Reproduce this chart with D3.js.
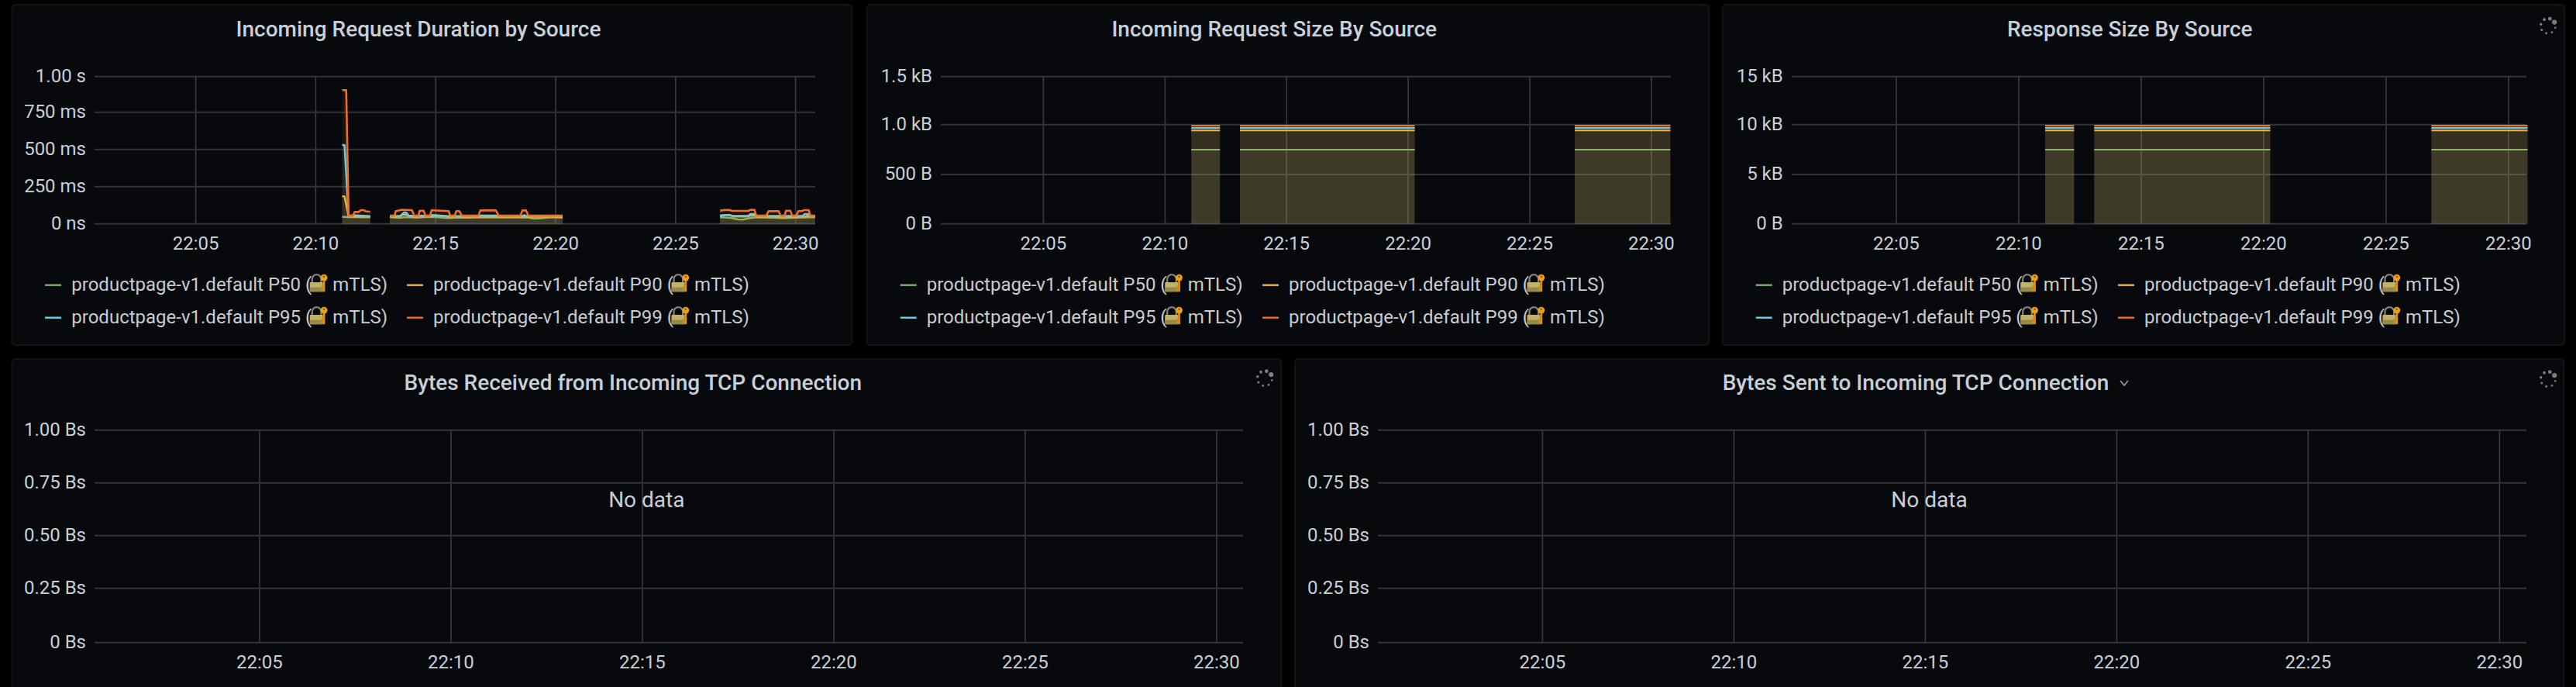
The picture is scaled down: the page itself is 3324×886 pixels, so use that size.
<!DOCTYPE html>
<html>
<head>
<meta charset="utf-8">
<script src="https://cdn.jsdelivr.net/npm/d3@7/dist/d3.min.js"></script>
<style>
html,body{margin:0;padding:0;background:#000;}
svg{display:block;}
text{font-family:Roboto,"Noto Sans",sans-serif;}
</style>
</head>
<body>
<svg id="c" width="3324" height="886"></svg>
<script>
// ---- DATA (time = minutes after 22:00) ----
const timeTicks = [5, 10, 15, 20, 25, 30];
const timeTickLabels = ["22:05", "22:10", "22:15", "22:20", "22:25", "22:30"];
const seriesNames = ["P50", "P90", "P95", "P99"];
const seriesColors = ["#7eb26d", "#eab839", "#6ed0e0", "#ef6e28"];
const source = "productpage-v1.default";

const durationP50 = [[11.10,48],[11.30,46],[11.9,44],[12.27,44],[12.28,null],
  [13.09,45],[13.5,40],[13.75,46],[14.2,42],[14.6,45],[15.0,46],[15.5,39],[15.9,42],[16.4,42],[16.9,44],[17.5,43],[18.2,44],[18.9,42],[19.1,35],[19.4,38],[19.8,44],[20.29,42],[20.3,null],
  [26.85,44],[27.3,40],[27.6,30],[27.8,28],[28.05,38],[28.4,44],[29.0,42],[29.5,38],[30.0,42],[30.81,44]];
const durationP90 = [[11.10,185],[11.20,185],[11.37,50],[12.27,48],[12.28,null],
  [13.09,48],[13.5,50],[13.62,62],[13.8,62],[13.95,50],[14.8,50],[14.95,56],[15.3,54],[15.5,48],[20.29,48],[20.3,null],
  [26.85,50],[27.05,60],[27.25,60],[27.4,50],[28.0,50],[28.12,56],[28.3,56],[28.4,48],[30.4,48],[30.5,54],[30.81,50]];
const durationP95 = [[11.10,530],[11.20,530],[11.37,54],[11.7,57],[12.27,52],[12.28,null],
  [13.09,52],[13.53,54],[13.67,76],[13.77,76],[13.88,54],[14.76,54],[14.85,60],[15.5,52],[16.8,52],[16.88,56],[17.5,56],[17.6,52],[18.6,52],[18.68,58],[18.78,52],[20.29,52],[20.3,null],
  [26.85,55],[27.05,60],[27.25,58],[27.4,53],[28.03,53],[28.12,66],[28.3,66],[28.37,53],[30.3,53],[30.38,66],[30.55,66],[30.62,53],[30.81,53]];
const durationP99 = [[11.10,905],[11.27,905],[11.37,55],[11.56,55],[11.62,80],[11.79,80],[11.88,92],[11.99,92],[12.09,84],[12.27,82],[12.28,null],
  [13.09,55],[13.28,55],[13.34,86],[13.58,95],[14.01,92],[14.10,55],[14.28,55],[14.33,88],[14.50,88],[14.57,55],[14.76,55],[14.83,92],[14.98,90],[15.54,86],[15.60,55],[15.79,55],[15.86,86],[15.98,86],[16.09,55],[16.78,55],[16.86,90],[17.51,90],[17.62,55],[18.53,55],[18.61,90],[18.77,90],[18.86,55],[20.29,55],[20.3,null],
  [26.85,88],[27.03,93],[27.25,93],[27.36,87],[28.03,87],[28.11,94],[28.29,94],[28.36,55],[28.78,55],[28.87,85],[29.30,85],[29.37,55],[29.54,55],[29.60,88],[29.78,88],[29.86,55],[30.03,55],[30.11,86],[30.27,86],[30.33,92],[30.55,92],[30.61,55],[30.81,55]];

const activeSegments = [[11.08, 12.26], [13.08, 20.27], [26.85, 30.78]];
const requestSizeLevels = [749, 943, 968, 990];   // bytes
const responseSizeLevels = [7490, 9430, 9680, 9900]; // bytes

const durationYTicks = [0, 250, 500, 750, 1000];
const durationYLabels = ["0 ns", "250 ms", "500 ms", "750 ms", "1.00 s"];
const requestYTicks = [0, 500, 1000, 1500];
const requestYLabels = ["0 B", "500 B", "1.0 kB", "1.5 kB"];
const responseYTicks = [0, 5000, 10000, 15000];
const responseYLabels = ["0 B", "5 kB", "10 kB", "15 kB"];
const tcpYTicks = [0, 0.25, 0.5, 0.75, 1];
const tcpYLabels = ["0 Bs", "0.25 Bs", "0.50 Bs", "0.75 Bs", "1.00 Bs"];

// ---- layout ----
const topRow = {panelTop: 6, panelBottom: 445, titleY: 37, tickY: 314};
const botRow = {panelTop: 463, panelBottom: 900, titleY: 493, tickY: 854};
const panels = [
 {title:"Incoming Request Duration by Source", px:[15.6,1099.4], row:topRow, plot:[122,1052], dom:[0.78,30.82], lineW:2.6,
  yTicks:durationYTicks, yLabels:durationYLabels, yRange:[288.7,240.7,192.7,144.7,98.7], legendX:[58,525], legendText:[92.3,559],
  series:[durationP50,durationP90,durationP95,durationP99]},
 {title:"Incoming Request Size By Source", px:[1118.5,2205], row:topRow, plot:[1214,2156], dom:[0.78,30.8], lineW:2.2,
  yTicks:requestYTicks, yLabels:requestYLabels, yRange:[288.7,225,160.7,98.7], legendX:[1161.7,1629], legendText:[1195.7,1663],
  levels:requestSizeLevels},
 {title:"Response Size By Source", px:[2222.5,3309], row:topRow, plot:[2311.7,3260], dom:[0.72,30.73], lineW:2.2,
  yTicks:responseYTicks, yLabels:responseYLabels, yRange:[288.7,225,160.7,98.7], legendX:[2265.7,2733], legendText:[2299.7,2767],
  levels:responseSizeLevels, spinner:[3288,33.5]},
 {title:"Bytes Received from Incoming TCP Connection", px:[15.6,1653], row:botRow, plot:[122,1604], dom:[0.69,30.69],
  yTicks:tcpYTicks, yLabels:tcpYLabels, yRange:[828.7,758.7,690.7,622.7,554.7], noData:true, spinner:[1632,488]},
 {title:"Bytes Sent to Incoming TCP Connection", px:[1671,3308], row:botRow, plot:[1778,3260], dom:[0.70,30.70],
  yTicks:tcpYTicks, yLabels:tcpYLabels, yRange:[828.7,758.7,690.7,622.7,554.7], noData:true, spinner:[3288,489], chevron:true}
];

const svg = d3.select("#c");
const textCol = "#c7d0d9";
const legendCol = "#c8ccd0";

function drawLock(g, x, y){
  const k = g.append("g").attr("transform", `translate(${x},${y})`);
  k.append("path").attr("d","M3,11 V6.5 A5.8,5.8 0 0 1 14.6,6.5 V11").attr("fill","none").attr("stroke","#7f8388").attr("stroke-width",2.2);
  k.append("rect").attr("x",0).attr("y",10.5).attr("width",17).attr("height",12.2).attr("rx",1).attr("fill","#bfb16a");
  k.append("rect").attr("x",0).attr("y",17).attr("width",17).attr("height",5.7).attr("fill","#978b45");
  k.append("circle").attr("cx",18.3).attr("cy",4.6).attr("r",4.4).attr("fill","#f0a012");
  k.append("circle").attr("cx",18.3).attr("cy",3.2).attr("r",1.2).attr("fill","#7c5a10");
  k.append("rect").attr("x",16.9).attr("y",8).attr("width",2.8).attr("height",14.7).attr("fill","#e0900c");
  k.append("rect").attr("x",14.6).attr("y",15).attr("width",2.4).attr("height",2).attr("fill","#e0900c");
  k.append("rect").attr("x",14.6).attr("y",19).attr("width",2.4).attr("height",2).attr("fill","#e0900c");
}

function drawSpinner(g, cx, cy){
  const sizes = [3.1, 2.4, 1.9, 1.7, 1.5, 1.5, 1.4, 1.4];
  const startAngle = -31 * Math.PI/180, r = 9.6;
  sizes.forEach((s,i)=>{
    const a = startAngle - i * Math.PI/4;
    g.append("circle").attr("cx",cx+r*Math.cos(a)).attr("cy",cy+r*Math.sin(a)).attr("r",s).attr("fill","#7b7c7e");
  });
}

panels.forEach(p=>{
  const g = svg.append("g");
  const r = p.row;
  g.append("rect").attr("x",p.px[0]).attr("y",r.panelTop).attr("width",p.px[1]-p.px[0]).attr("height",r.panelBottom-r.panelTop)
    .attr("rx",5).attr("fill","#08090c").attr("stroke","#131417").attr("stroke-width",2);

  const x = d3.scaleLinear().domain(p.dom).range(p.plot);
  const y = d3.scaleLinear().domain(p.yTicks).range(p.yRange);
  const yBottom = y(0), yTop = y(p.yTicks[p.yTicks.length-1]);

  // title
  const pc = (p.px[0]+p.px[1])/2 - 17.5;
  g.append("text").attr("x",pc).attr("y",r.titleY).attr("text-anchor","middle").attr("dominant-baseline","central")
    .attr("font-size",28).attr("font-weight",500).attr("fill",textCol).text(p.title);
  if(p.chevron){
    g.append("path").attr("d",`M${pc+264},${r.titleY-2} l5,6 l5,-6`).attr("fill","none").attr("stroke","#9aa3ab").attr("stroke-width",1.5);
  }

  // grid
  g.append("g").selectAll("line").data(timeTicks).join("line")
    .attr("x1",d=>x(d)).attr("x2",d=>x(d)).attr("y1",yTop).attr("y2",yBottom)
    .attr("stroke","#3a3b3e").attr("stroke-width",1.6);
  g.append("g").selectAll("line").data(p.yTicks).join("line")
    .attr("x1",p.plot[0]).attr("x2",p.plot[1]).attr("y1",d=>y(d)).attr("y2",d=>y(d))
    .attr("stroke","#333437").attr("stroke-width",2);

  // axis labels
  g.append("g").selectAll("text").data(timeTicks).join("text")
    .attr("x",d=>x(d)).attr("y",r.tickY).attr("text-anchor","middle").attr("dominant-baseline","central")
    .attr("font-size",24).attr("fill",textCol).text((d,i)=>timeTickLabels[i]);
  g.append("g").selectAll("text").data(p.yTicks).join("text")
    .attr("x",p.plot[0]-11).attr("y",d=>y(d)-1).attr("text-anchor","end").attr("dominant-baseline","central")
    .attr("font-size",24).attr("fill",textCol).text((d,i)=>p.yLabels[i]);

  // series
  const area = d3.area().defined(d=>d[1]!==null).x(d=>x(d[0])).y0(yBottom).y1(d=>y(d[1]));
  const line = d3.line().defined(d=>d[1]!==null).x(d=>x(d[0])).y(d=>y(d[1]));
  const seriesData = p.series ? p.series : p.levels ? p.levels.map(v=>{
      const pts=[]; activeSegments.forEach((s,i)=>{ pts.push([s[0],v],[s[1],v]); if(i<activeSegments.length-1) pts.push([s[1]+0.01,null]); });
      return pts;
    }) : [];
  seriesData.forEach((d,i)=>{
    g.append("path").datum(d).attr("d",area).attr("fill",seriesColors[i]).attr("fill-opacity",0.09);
    g.append("path").datum(d).attr("d",line).attr("fill","none").attr("stroke",seriesColors[i]).attr("stroke-width",p.lineW).attr("stroke-linejoin","round");
  });

  // no data
  if(p.noData){
    g.append("text").attr("x",(p.px[0]+p.px[1])/2).attr("y",644).attr("text-anchor","middle").attr("dominant-baseline","central")
      .attr("font-size",28).attr("fill",textCol).text("No data");
  }

  // legend
  if(p.legendX){
    seriesNames.forEach((n,i)=>{
      const col = i%2, rowY = i<2 ? 367 : 409;
      g.append("line").attr("x1",p.legendX[col]).attr("x2",p.legendX[col]+21).attr("y1",rowY+0.7).attr("y2",rowY+0.7)
        .attr("stroke",seriesColors[i]).attr("stroke-width",2.4);
      const tx = p.legendText[col];
      g.append("text").attr("x",tx).attr("y",rowY).attr("dominant-baseline","central")
        .attr("font-size",24).attr("fill",legendCol).text(`${source} ${n} (`);
      drawLock(g, tx+307.5, rowY-13.5);
      g.append("text").attr("x",tx+337).attr("y",rowY).attr("dominant-baseline","central")
        .attr("font-size",24).attr("fill",legendCol).text("mTLS)");
    });
  }

  if(p.spinner) drawSpinner(g, p.spinner[0], p.spinner[1]);
});
</script>
</body>
</html>
